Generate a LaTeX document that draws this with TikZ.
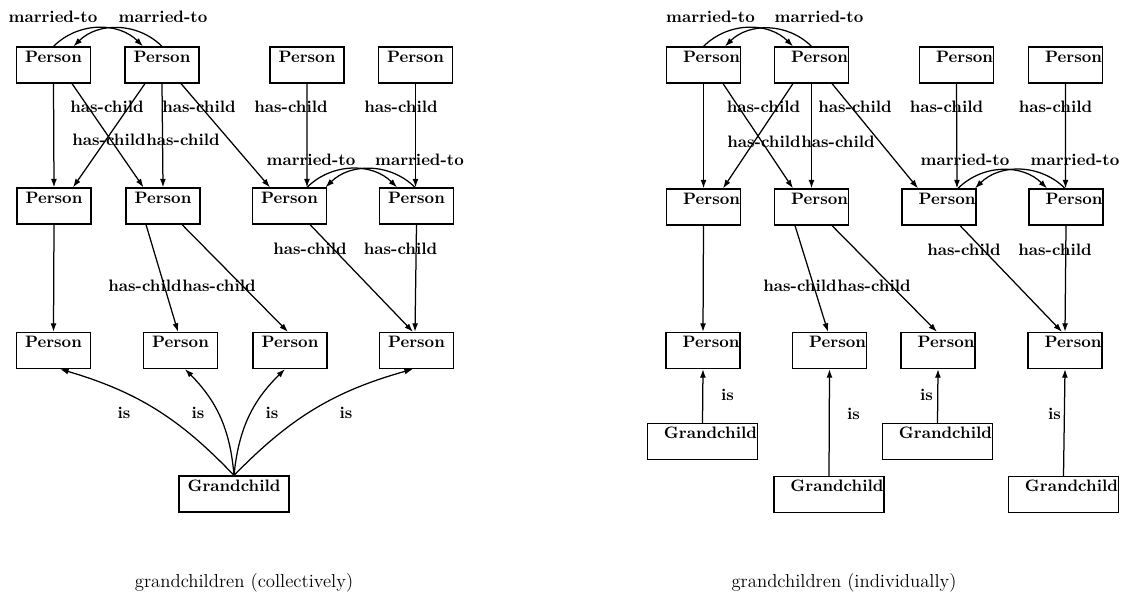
\documentclass[tikz,border=0pt]{standalone}
\usetikzlibrary{arrows.meta,calc}

\begin{document}
\begin{tikzpicture}[x=0.64pt,y=0.64pt,
  box/.style={draw, line width=0.8pt, rectangle, minimum width=47.4pt,
    minimum height=23pt, inner xsep=1pt, inner ysep=2.6pt,
    text height=7.3pt, text depth=10.5pt,
    font=\fontsize{10.6}{12}\selectfont\bfseries, align=center},
  boxR/.style={box, inner xsep=0.4pt, text width=46.6pt, align=right},
  gbox/.style={box, minimum width=70.4pt},
  gboxR/.style={box, inner xsep=0.4pt, text width=69.6pt, align=right},
  rel/.style={-{Latex[length=5.5pt,width=3.8pt]}, line width=0.8pt},
  lbl/.style={font=\fontsize{10.6}{12}\selectfont\bfseries, inner sep=0pt},
  ttl/.style={font=\fontsize{12}{14}\selectfont, inner sep=0pt}]

\useasboundingbox (0,0) rectangle (1128,610);

% ---------- collectively ----------
\node[box] (A1) at (53.5,545) {Person};
\node[box] (A2) at (162,545) {Person};
\node[box] (A3) at (307,545) {Person};
\node[box] (A4) at (415.5,545) {Person};
\node[box] (B1) at (54,404) {Person};
\node[box] (B2) at (163,404) {Person};
\node[box] (B3) at (289.5,404) {Person};
\node[box] (B4) at (416.5,404) {Person};
\node[box] (C1) at (53.5,259.5) {Person};
\node[box] (C2) at (180.5,259.5) {Person};
\node[box] (C3) at (290,259.5) {Person};
\node[box] (C4) at (416.5,259.5) {Person};
\node[gbox] (G) at (234,116) {Grandchild};

\draw[rel] (A1.north) to[bend left=45] ($(A2.north)+(-19,0)$);
\draw[rel] (A2.north) to[bend right=45] ($(A1.north)+(20,0)$);
\draw[rel] (A1.south) -- (B1.north);
\draw[rel] ($(A1.south)+(18.5,0)$) -- ($(B2.north)+(-19.5,0)$);
\draw[rel] ($(A2.south)+(-17,0)$) -- ($(B1.north)+(19,0)$);
\draw[rel] (A2.south) -- (B2.north);
\draw[rel] ($(A2.south)+(19,0)$) -- ($(B3.north)+(-19.5,0)$);
\draw[rel] (A3.south) -- ($(B3.north)+(17.5,0)$);
\draw[rel] (A4.south) -- ($(B4.north)+(-1,0)$);
\draw[rel] ($(B3.north)+(17.5,0)$) to[bend left=45] ($(B4.north)+(-19.5,0)$);
\draw[rel] ($(B4.north)+(-1.5,0)$) to[bend right=45] ($(B3.north)+(36,0)$);
\draw[rel] (B1.south) -- (C1.north);
\draw[rel] ($(B2.south)+(-17,0)$) -- ($(C2.north)+(-2.5,0)$);
\draw[rel] ($(B2.south)+(19,0)$) -- ($(C3.north)+(-2,0)$);
\draw[rel] ($(B3.south)+(20.5,0)$) -- ($(C4.north)+(-3.5,0)$);
\draw[rel] (B4.south) -- ($(C4.north)+(-1.5,0)$);
\draw[rel] (G.north) to[bend right=15] ($(C1.south)+(6.5,0)$);
\draw[rel] (G.north) to[bend right=20] ($(C2.south)+(4.5,0)$);
\draw[rel] (G.north) to[bend left=20] ($(C3.south)+(-5,0)$);
\draw[rel] (G.north) to[bend left=15] ($(C4.south)+(-3.5,0)$);

\node[lbl] (lm1) at (53,593.5) {married-to};
\node[lbl] (lm2) at (163,593.5) {married-to};
\node[lbl] (lh1) at (107,503) {has-child};
\node[lbl] (lh2) at (199,503) {has-child};
\node[lbl] (lh3) at (291,503) {has-child};
\node[lbl] (lh4) at (401,503) {has-child};
\node[lbl, anchor=west] (lh5) at (72,470) {has-child};
\node[lbl, anchor=west] (lh6) at (lh5.east) {has-child};
\node[lbl] (lm3) at (311,450) {married-to};
\node[lbl] (lm4) at (419.5,450) {married-to};
\node[lbl] (lh7) at (310,361) {has-child};
\node[lbl] (lh8) at (400.5,361) {has-child};
\node[lbl, anchor=west] (lh9) at (108,324) {has-child};
\node[lbl, anchor=west] (lh10) at (lh9.east) {has-child};
\node[lbl] (li1) at (124,197) {is};
\node[lbl] (li2) at (198,197) {is};
\node[lbl] (li3) at (272,197) {is};
\node[lbl] (li4) at (346,197) {is};

\node[ttl] (t1) at (244,27) {grandchildren (collectively)};

% ---------- individually ----------
\node[boxR] (RA1) at (703.5,545) {Person};
\node[boxR] (RA2) at (811.5,545) {Person};
\node[boxR] (RA3) at (956.5,545) {Person};
\node[boxR] (RA4) at (1065.5,545) {Person};
\node[boxR] (RB1) at (703.5,403) {Person};
\node[boxR] (RB2) at (811.5,403) {Person};
\node[boxR] (RB3) at (939,403) {Person};
\node[boxR] (RB4) at (1066,403) {Person};
\node[boxR] (RC1) at (703,259.5) {Person};
\node[boxR] (RC2) at (829.5,259.5) {Person};
\node[boxR] (RC3) at (938,259.5) {Person};
\node[boxR] (RC4) at (1065,259.5) {Person};
\node[gboxR] (RG1) at (702.5,168.5) {Grandchild};
\node[gboxR] (RG2) at (829,115.5) {Grandchild};
\node[gboxR] (RG3) at (937.5,168.5) {Grandchild};
\node[gboxR] (RG4) at (1063.5,115.5) {Grandchild};

\draw[rel] (RA1.north) to[bend left=45] ($(RA2.north)+(-18.5,0)$);
\draw[rel] (RA2.north) to[bend right=45] ($(RA1.north)+(21.5,0)$);
\draw[rel] (RA1.south) -- (RB1.north);
\draw[rel] ($(RA1.south)+(19.5,0)$) -- ($(RB2.north)+(-18.5,0)$);
\draw[rel] ($(RA2.south)+(-18.5,0)$) -- ($(RB1.north)+(19.5,0)$);
\draw[rel] (RA2.south) -- (RB2.north);
\draw[rel] ($(RA2.south)+(20.5,0)$) -- ($(RB3.north)+(-21,0)$);
\draw[rel] (RA3.south) -- ($(RB3.north)+(18,0)$);
\draw[rel] (RA4.south) -- ($(RB4.north)+(-0.5,0)$);
\draw[rel] ($(RB3.north)+(19,0)$) to[bend left=45] ($(RB4.north)+(-19,0)$);
\draw[rel] ($(RB4.north)+(-1,0)$) to[bend right=45] ($(RB3.north)+(36,0)$);
\draw[rel] (RB1.south) -- (RC1.north);
\draw[rel] ($(RB2.south)+(-16.5,0)$) -- ($(RC2.north)+(-1.5,0)$);
\draw[rel] ($(RB2.south)+(20.5,0)$) -- ($(RC3.north)+(-1,0)$);
\draw[rel] ($(RB3.south)+(21,0)$) -- ($(RC4.north)+(-3,0)$);
\draw[rel] (RB4.south) -- (RC4.north);
\draw[rel] (RG1.north) -- (RC1.south);
\draw[rel] (RG2.north) -- (RC2.south);
\draw[rel] (RG3.north) -- (RC3.south);
\draw[rel] (RG4.north) -- (RC4.south);

\node[lbl] (rm1) at (710.5,593.5) {married-to};
\node[lbl] (rm2) at (819,593.5) {married-to};
\node[lbl] (rh1) at (763.5,503) {has-child};
\node[lbl] (rh2) at (855,503) {has-child};
\node[lbl] (rh3) at (946.5,503) {has-child};
\node[lbl] (rh4) at (1055.5,503) {has-child};
\node[lbl, anchor=west] (rh5) at (727,468) {has-child};
\node[lbl, anchor=west] (rh6) at (rh5.east) {has-child};
\node[lbl] (rm3) at (965,450) {married-to};
\node[lbl] (rm4) at (1075,450) {married-to};
\node[lbl] (rh7) at (964,360) {has-child};
\node[lbl] (rh8) at (1055,360) {has-child};
\node[lbl, anchor=west] (rh9) at (763,324) {has-child};
\node[lbl, anchor=west] (rh10) at (rh9.east) {has-child};
\node[lbl] (ri1) at (727.5,215) {is};
\node[lbl] (ri2) at (853.5,196) {is};
\node[lbl] (ri3) at (926.5,215) {is};
\node[lbl] (ri4) at (1054.5,196) {is};

\node[ttl] (t2) at (844,27) {grandchildren (individually)};
\end{tikzpicture}
\end{document}
